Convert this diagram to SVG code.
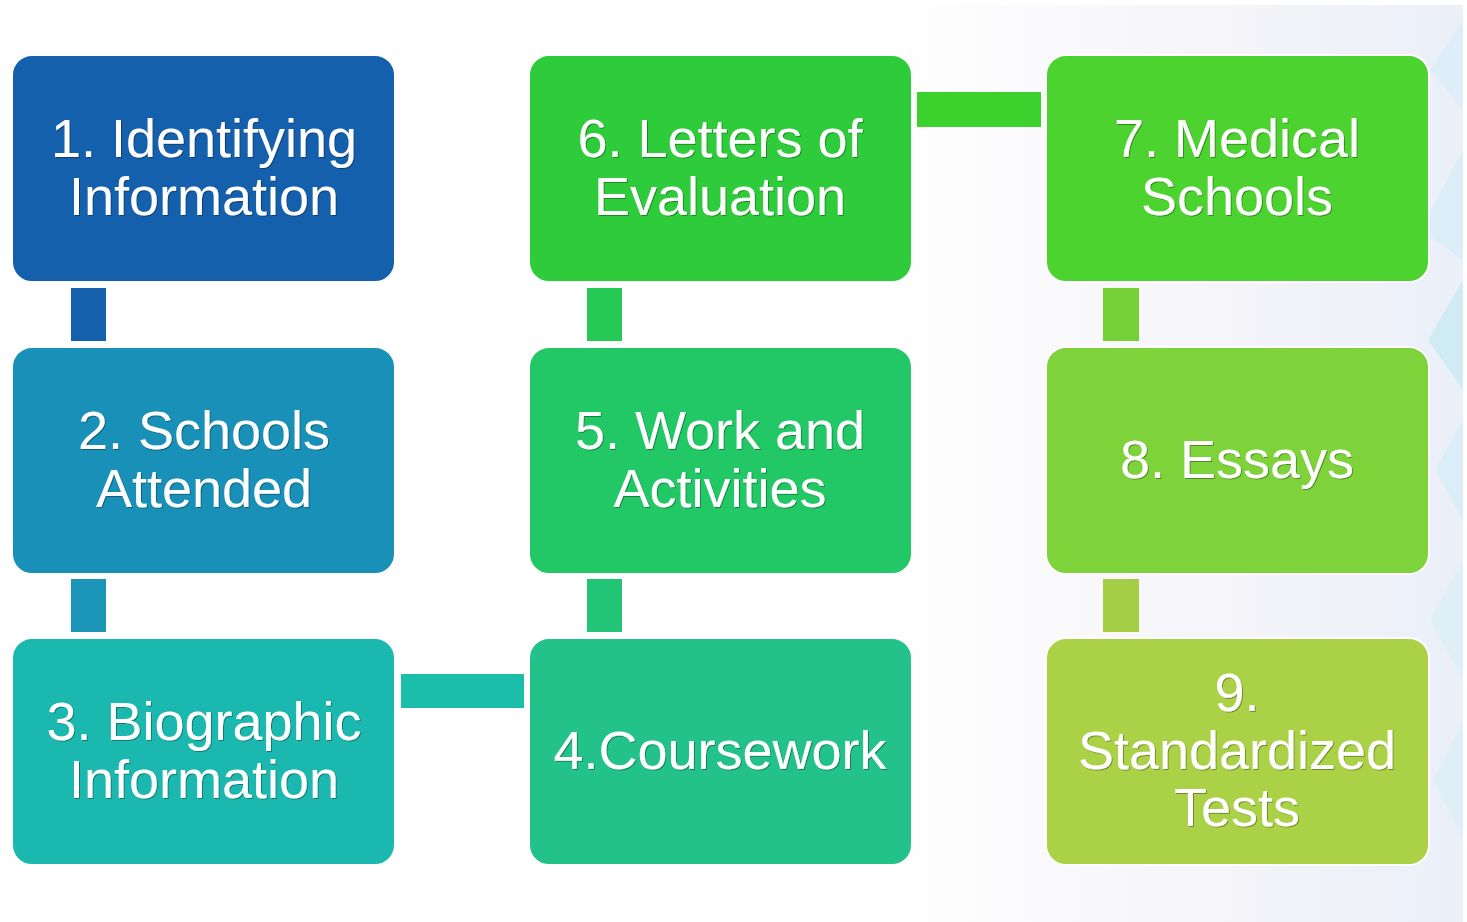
<svg xmlns="http://www.w3.org/2000/svg" width="1467" height="922" viewBox="0 0 1467 922">
  <defs>
    <linearGradient id="bgGrad" x1="0" y1="0" x2="1" y2="0">
      <stop offset="0" stop-color="#ffffff"/>
      <stop offset="0.6" stop-color="#ffffff"/>
      <stop offset="0.85" stop-color="#f4f4f9"/>
      <stop offset="1" stop-color="#eaeff8"/>
    </linearGradient>
    <filter id="ts" x="-10%" y="-30%" width="120%" height="160%">
      <feDropShadow dx="1" dy="1" stdDeviation="0.6" flood-color="#000000" flood-opacity="0.35"/>
    </filter>
  </defs>
  <style>
    .box { stroke: #ffffff; stroke-width: 2; }
    .lbl { font-family: "Liberation Sans", Arial, sans-serif; font-size: 54px; fill: #ffffff; text-anchor: middle; filter: url(#ts); }
  </style>

  <!-- background -->
  <rect x="0" y="0" width="1467" height="922" fill="url(#bgGrad)"/>
  <g id="background-shapes" opacity="0.8">
    <polygon points="1463,20 1430,70 1463,110" fill="#dceef8"/>
    <polygon points="1463,150 1420,230 1463,260" fill="#d8eef7"/>
    <polygon points="1463,280 1428,340 1463,390" fill="#c9ecf5"/>
    <polygon points="1463,420 1435,470 1463,520" fill="#d6eef7"/>
    <polygon points="1463,560 1430,620 1463,680" fill="#dcf0f8"/>
    <polygon points="1463,720 1433,780 1463,840" fill="#dbeff8"/>
  </g>
  <rect x="1463" y="0" width="4" height="922" fill="#ffffff"/>
  <rect x="0" y="0" width="1467" height="5" fill="#ffffff"/>

  <!-- connectors -->
  <g id="connectors">
    <rect x="71" y="288" width="35" height="53" fill="#1560ad"/>
    <rect x="71" y="579" width="35" height="53" fill="#1a95b7"/>
    <rect x="401" y="674" width="123" height="34" fill="#1bbea9"/>
    <rect x="587" y="579" width="35" height="53" fill="#22c576"/>
    <rect x="587" y="288" width="35" height="53" fill="#27c955"/>
    <rect x="917" y="92" width="124" height="35" fill="#3bd22e"/>
    <rect x="1103" y="288" width="36" height="53" fill="#74d036"/>
    <rect x="1103" y="579" width="36" height="53" fill="#a4cf45"/>
  </g>

  <g id="node1">
    <rect class="box" x="12" y="55" width="383" height="227" rx="20" fill="#1560ad"/>
    <text class="lbl" x="204" y="157">1. Identifying</text>
    <text class="lbl" x="204" y="215">Information</text>
  </g>
  <g id="node2">
    <rect class="box" x="12" y="347" width="383" height="227" rx="20" fill="#1990b8"/>
    <text class="lbl" x="204" y="449">2. Schools</text>
    <text class="lbl" x="204" y="507">Attended</text>
  </g>
  <g id="node3">
    <rect class="box" x="12" y="638" width="383" height="227" rx="20" fill="#1bb8b0"/>
    <text class="lbl" x="204" y="740">3. Biographic</text>
    <text class="lbl" x="204" y="798">Information</text>
  </g>
  <g id="node4">
    <rect class="box" x="529" y="638" width="383" height="227" rx="20" fill="#22c28a"/>
    <text class="lbl" x="720" y="769">4.Coursework</text>
  </g>
  <g id="node5">
    <rect class="box" x="529" y="347" width="383" height="227" rx="20" fill="#22c866"/>
    <text class="lbl" x="720" y="449">5. Work and</text>
    <text class="lbl" x="720" y="507">Activities</text>
  </g>
  <g id="node6">
    <rect class="box" x="529" y="55" width="383" height="227" rx="20" fill="#2ecc3a"/>
    <text class="lbl" x="720" y="157">6. Letters of</text>
    <text class="lbl" x="720" y="215">Evaluation</text>
  </g>
  <g id="node7">
    <rect class="box" x="1046" y="55" width="383" height="227" rx="20" fill="#4cd32f"/>
    <text class="lbl" x="1237" y="157">7. Medical</text>
    <text class="lbl" x="1237" y="215">Schools</text>
  </g>
  <g id="node8">
    <rect class="box" x="1046" y="347" width="383" height="227" rx="20" fill="#7ed23a"/>
    <text class="lbl" x="1237" y="478">8. Essays</text>
  </g>
  <g id="node9">
    <rect class="box" x="1046" y="638" width="383" height="227" rx="20" fill="#abd146"/>
    <text class="lbl" x="1237" y="711">9.</text>
    <text class="lbl" x="1237" y="769">Standardized</text>
    <text class="lbl" x="1237" y="826">Tests</text>
  </g>
</svg>
